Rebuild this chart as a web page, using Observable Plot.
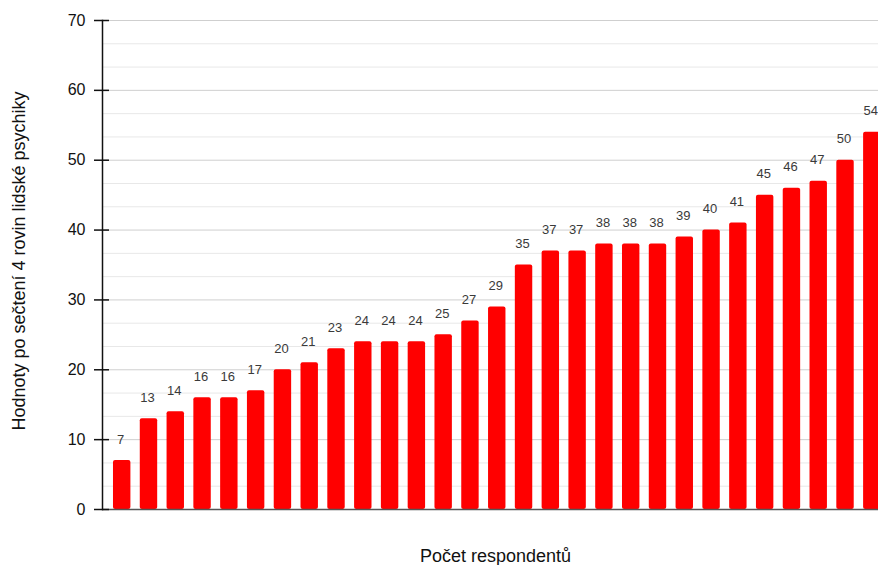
<!DOCTYPE html>
<html>
<head>
<meta charset="utf-8">
<script src="https://cdn.jsdelivr.net/npm/d3@7"></script>
<script src="https://cdn.jsdelivr.net/npm/@observablehq/plot@0.6"></script>
<style>
html, body { margin: 0; padding: 0; background: #fff; overflow: hidden; }
</style>
</head>
<body>
<div id="chart"></div>
<script>
const respondents = ["1","2","3","4","5","6","7","8","9","10","11","12","13","14","15","16","17","18","19","20","21","22","23","24","25","26","27","28","29"];
const values = [7,13,14,16,16,17,20,21,23,24,24,24,25,27,29,35,37,37,38,38,38,39,40,41,45,46,47,50,54];
const majorTicks = [0,10,20,30,40,50,60,70];
const minorTicks = [10/3,20/3,40/3,50/3,70/3,80/3,100/3,110/3,130/3,140/3,160/3,170/3,190/3,200/3];
const xTitle = "Počet respondentů";
const yTitle = "Hodnoty po sečtení 4 rovin lidské psychiky";

const data = respondents.map((r, i) => ({r, v: values[i]}));

const chart = Plot.plot({
  width: 878,
  height: 565,
  marginLeft: 102,
  marginRight: 0,
  marginTop: 20,
  marginBottom: 56,
  style: {fontFamily: "'Liberation Sans', Arial, sans-serif", background: "#fff"},
  x: {type: "band", domain: respondents, range: [102, 891.5], paddingInner: 0.35, paddingOuter: 0.41, round: false, axis: null},
  y: {domain: [0, 70], axis: null},
  marks: [
    Plot.ruleY(minorTicks, {stroke: "#e8e8e8", strokeWidth: 1}),
    Plot.ruleY(majorTicks, {stroke: "#cfcfcf", strokeWidth: 1}),
    Plot.barY(data, {x: "r", y: "v", fill: "#ff0000", rx: 2}),
    Plot.ruleY([0], {stroke: "#555", strokeWidth: 1.5}),
    Plot.frame({anchor: "left", stroke: "#111", strokeWidth: 1.5}),
    Plot.axisY(majorTicks, {tickSize: 15, dx: 7, tickPadding: 9, fontSize: 16, fill: "#111", stroke: "#111", strokeWidth: 1.5, label: null, tickFormat: d => d}),
    Plot.text(data, {x: "r", y: "v", text: d => String(d.v), dx: -1.5, dy: -21, fontSize: 13, fill: "#3a3a3a"}),
    Plot.text([xTitle], {frameAnchor: "bottom", lineAnchor: "middle", dx: 5, dy: 47, fontSize: 18, fill: "#111", text: d => d}),
    Plot.text([yTitle], {frameAnchor: "left", dx: -83, dy: -4, rotate: -90, textAnchor: "middle", fontSize: 18, fill: "#111", text: d => d})
  ]
});
document.getElementById("chart").appendChild(chart);
</script>
</body>
</html>
